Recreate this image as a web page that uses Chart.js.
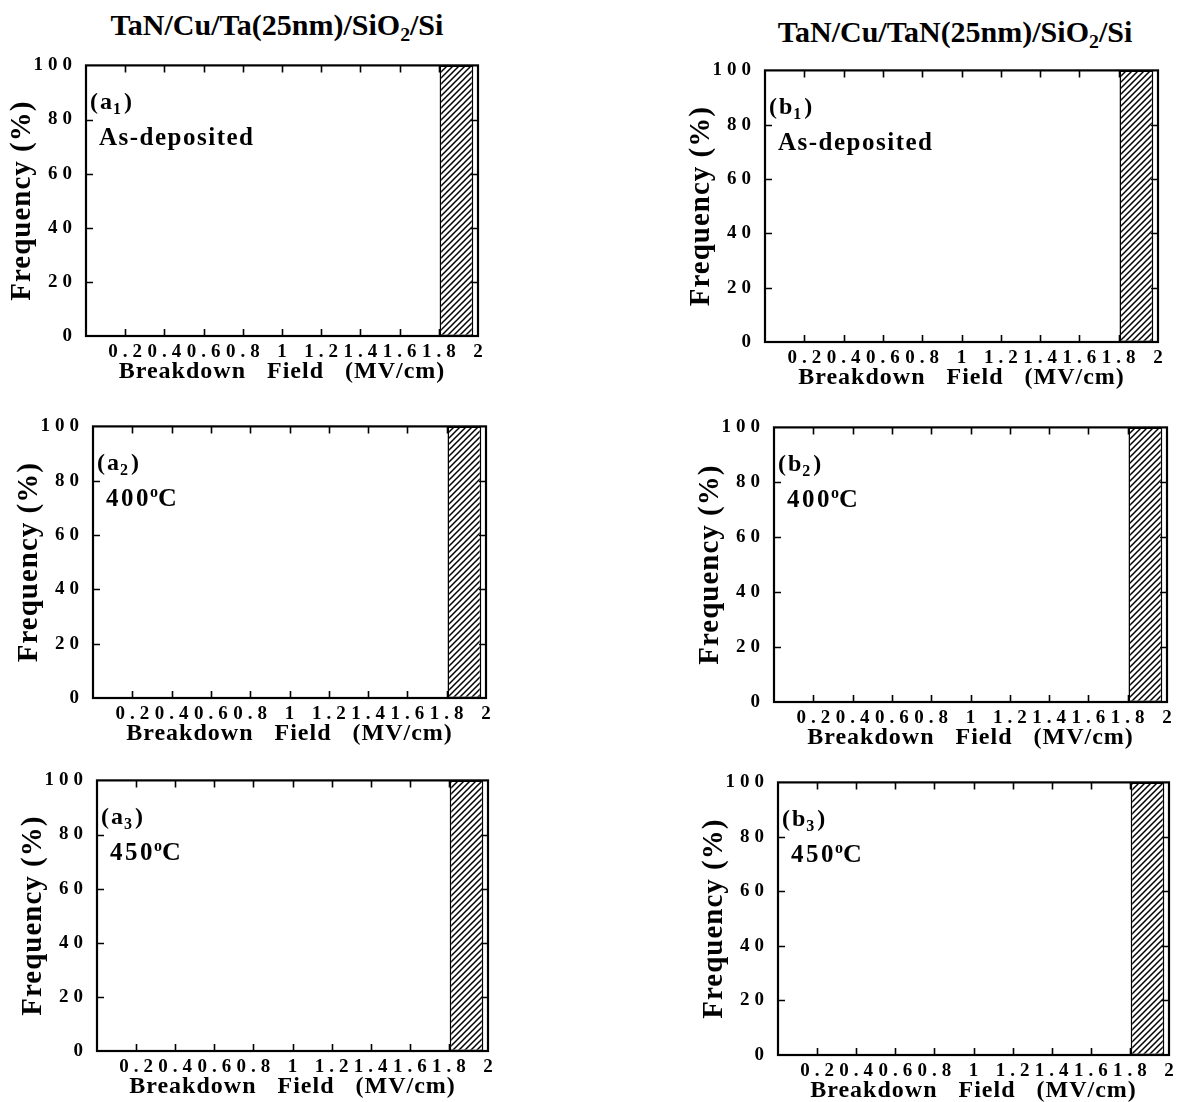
<!DOCTYPE html>
<html>
<head>
<meta charset="utf-8">
<script src="https://cdn.jsdelivr.net/npm/chart.js@4.4.0/dist/chart.umd.min.js"></script>
<style>
  body { margin: 0; background: #fff; }
  #page { position: relative; width: 1180px; height: 1102px; overflow: hidden; background: #fff; }
  .panel { position: absolute; }
  .col-title {
    position: absolute; width: 500px; text-align: center; color: #000;
    font: bold 30px "Liberation Serif", "Times New Roman", serif; line-height: 1; white-space: nowrap;
  }
  .col-title sub { font-size: 0.66em; line-height: 0; vertical-align: -0.28em; }
</style>
</head>
<body>
<div id="page">
  <div class="col-title" id="titleA">TaN/Cu/Ta(25nm)/SiO<sub>2</sub>/Si</div>
  <div class="col-title" id="titleB">TaN/Cu/TaN(25nm)/SiO<sub>2</sub>/Si</div>
</div>
<script>
// breakdown-field histogram bins (MV/cm) and frequencies (%)
const fieldBins = [1.89];
const taAsDeposited = [100];
const ta400 = [100];
const ta450 = [100];
const tanAsDeposited = [100];
const tan400 = [100];
const tan450 = [100];

const fieldTickLabels = ['', '0.2', '0.4', '0.6', '0.8', '1', '1.2', '1.4', '1.6', '1.8', '2'];
const conditions = ['As-deposited', '400°C', '450°C'];

// plot-area rectangles [left, top, right, bottom] on the page
const panelBoxes = [
    [86, 65, 478, 336],
    [93, 426, 486, 698],
    [97, 780, 488, 1051],
    [765, 70, 1158, 342],
    [774, 427, 1167, 702],
    [778, 782, 1169, 1055]
];

const panels = [
    { letter: 'a', n: '1', cond: conditions[0], values: taAsDeposited },
    { letter: 'a', n: '2', cond: conditions[1], values: ta400 },
    { letter: 'a', n: '3', cond: conditions[2], values: ta450 },
    { letter: 'b', n: '1', cond: conditions[0], values: tanAsDeposited },
    { letter: 'b', n: '2', cond: conditions[1], values: tan400 },
    { letter: 'b', n: '3', cond: conditions[2], values: tan450 }
];

const SERIF = '"Liberation Serif", "Times New Roman", serif';
const AXIS_W = 86;   // room for y title + tick labels
const AXIS_H = 50;   // room for x tick labels + title
const PAD_T = 20;
const PAD_R = 16;
const TICK_SPACING = 5;

Chart.defaults.font.family = SERIF;
Chart.defaults.font.weight = 'bold';
Chart.defaults.color = '#000';

// column headings
document.getElementById('titleA').style.cssText = 'left:27px;top:10px;';
document.getElementById('titleB').style.cssText = 'left:705px;top:17px;';

// diagonal hatching tile for the bars
const hatchTile = document.createElement('canvas');
hatchTile.width = hatchTile.height = 6;
(() => {
    const g = hatchTile.getContext('2d');
    g.fillStyle = '#fff';
    g.fillRect(0, 0, 6, 6);
    g.strokeStyle = '#000';
    g.lineWidth = 1.5;
    g.beginPath();
    g.moveTo(-1, 7); g.lineTo(7, -1);
    g.moveTo(-1, 1); g.lineTo(1, -1);
    g.moveTo(5, 7); g.lineTo(7, 5);
    g.stroke();
})();

// box frame with inward ticks on all four sides, then wide spacing for tick labels
const framePlugin = {
    id: 'frame',
    beforeDraw(chart) {
        chart.ctx.letterSpacing = '1px';
    },
    afterDatasetsDraw(chart) {
        const { ctx, chartArea: a, scales: { x, y } } = chart;
        ctx.save();
        ctx.strokeStyle = '#000';
        ctx.lineWidth = 1.6;
        ctx.beginPath();
        x.ticks.forEach(t => {
            if (t.value <= x.min + 1e-6 || t.value >= x.max - 1e-6) return;
            const px = Math.round(x.getPixelForValue(t.value)) + 0.5;
            ctx.moveTo(px, a.bottom); ctx.lineTo(px, a.bottom - 7);
            ctx.moveTo(px, a.top); ctx.lineTo(px, a.top + 7);
        });
        y.ticks.forEach(t => {
            if (t.value <= y.min || t.value >= y.max) return;
            const py = Math.round(y.getPixelForValue(t.value)) + 0.5;
            ctx.moveTo(a.left, py); ctx.lineTo(a.left + 7, py);
            ctx.moveTo(a.right, py); ctx.lineTo(a.right - 7, py);
        });
        ctx.stroke();
        ctx.lineWidth = 2.2;
        ctx.strokeRect(a.left, a.top, a.right - a.left, a.bottom - a.top);
        ctx.restore();
        ctx.letterSpacing = TICK_SPACING + 'px';
    },
    afterDraw(chart, args, opts) {
        const { ctx, chartArea: a } = chart;
        ctx.save();
        ctx.fillStyle = '#000';
        ctx.textBaseline = 'alphabetic';
        ctx.textAlign = 'left';

        // (a1) style tag with subscript
        ctx.letterSpacing = '2px';
        let tx = a.left + 4;
        const ty = a.top + 44;
        ctx.font = 'bold 24px ' + SERIF;
        ctx.fillText('(' + opts.letter, tx, ty);
        tx += ctx.measureText('(' + opts.letter).width;
        ctx.font = 'bold 16px ' + SERIF;
        ctx.fillText(opts.n, tx - 1, ty + 5);
        tx += ctx.measureText(opts.n).width;
        ctx.font = 'bold 24px ' + SERIF;
        ctx.fillText(')', tx, ty);

        // annealing condition, degree sign drawn as a raised small o
        let cx = a.left + 13;
        const cy = a.top + 80;
        ctx.font = 'bold 25px ' + SERIF;
        if (opts.cond.includes('°')) {
            const [num, unit] = opts.cond.split('°');
            ctx.letterSpacing = '2.5px';
            ctx.fillText(num, cx, cy);
            cx += ctx.measureText(num).width - 1;
            ctx.letterSpacing = '0px';
            ctx.font = 'bold 16px ' + SERIF;
            ctx.fillText('o', cx, cy - 9);
            cx += ctx.measureText('o').width;
            ctx.font = 'bold 26px ' + SERIF;
            ctx.fillText(unit, cx, cy);
        } else {
            ctx.letterSpacing = '1.5px';
            ctx.fillText(opts.cond, cx, cy);
        }
        ctx.restore();
        ctx.letterSpacing = '0px';
    }
};

function makePanel(p, box) {
    const [l, t, r, b] = box;
    const canvas = document.createElement('canvas');
    canvas.className = 'panel';
    canvas.width = (r - l) + AXIS_W + PAD_R;
    canvas.height = (b - t) + PAD_T + AXIS_H;
    canvas.style.left = (l - AXIS_W) + 'px';
    canvas.style.top = (t - PAD_T) + 'px';
    document.getElementById('page').appendChild(canvas);

    new Chart(canvas, {
        type: 'bar',
        data: {
            datasets: [{
                data: fieldBins.map((f, i) => ({ x: f, y: p.values[i] })),
                backgroundColor: (c) => c.chart.ctx.createPattern(hatchTile, 'repeat'),
                borderColor: '#000',
                borderWidth: 1.6,
                borderSkipped: false,
                barPercentage: 0.86,
                categoryPercentage: 1
            }]
        },
        options: {
            responsive: false,
            animation: false,
            layout: { padding: { top: PAD_T, right: PAD_R, left: 0, bottom: 0 } },
            plugins: {
                legend: { display: false },
                tooltip: { enabled: false },
                frame: { letter: p.letter, n: p.n, cond: p.cond }
            },
            scales: {
                x: {
                    type: 'linear',
                    min: 0,
                    max: 2,
                    offset: false,
                    afterFit: (s) => { s.height = AXIS_H; },
                    grid: { display: false, drawTicks: false },
                    border: { display: false },
                    ticks: {
                        stepSize: 0.2,
                        autoSkip: false,
                        maxRotation: 0,
                        padding: 5,
                        labelOffset: TICK_SPACING / 2,
                        z: 1,
                        font: { size: 19, weight: 'bold' },
                        callback: (v, i) => fieldTickLabels[i]
                    },
                    title: {
                        display: true,
                        text: 'Breakdown   Field   (MV/cm)',
                        font: { size: 24, weight: 'bold' },
                        padding: { top: 0, bottom: 0 }
                    }
                },
                y: {
                    min: 0,
                    max: 100,
                    afterFit: (s) => { s.width = AXIS_W; },
                    grid: { display: false, drawTicks: false },
                    border: { display: false },
                    ticks: {
                        stepSize: 20,
                        padding: 9,
                        z: 1,
                        font: { size: 19, weight: 'bold' }
                    },
                    title: {
                        display: true,
                        text: 'Frequency (%)',
                        font: { size: 29, weight: 'bold' },
                        padding: { top: 5, bottom: 0 }
                    }
                }
            }
        },
        plugins: [framePlugin]
    });
}

panels.forEach((p, i) => makePanel(p, panelBoxes[i]));
</script>
</body>
</html>
